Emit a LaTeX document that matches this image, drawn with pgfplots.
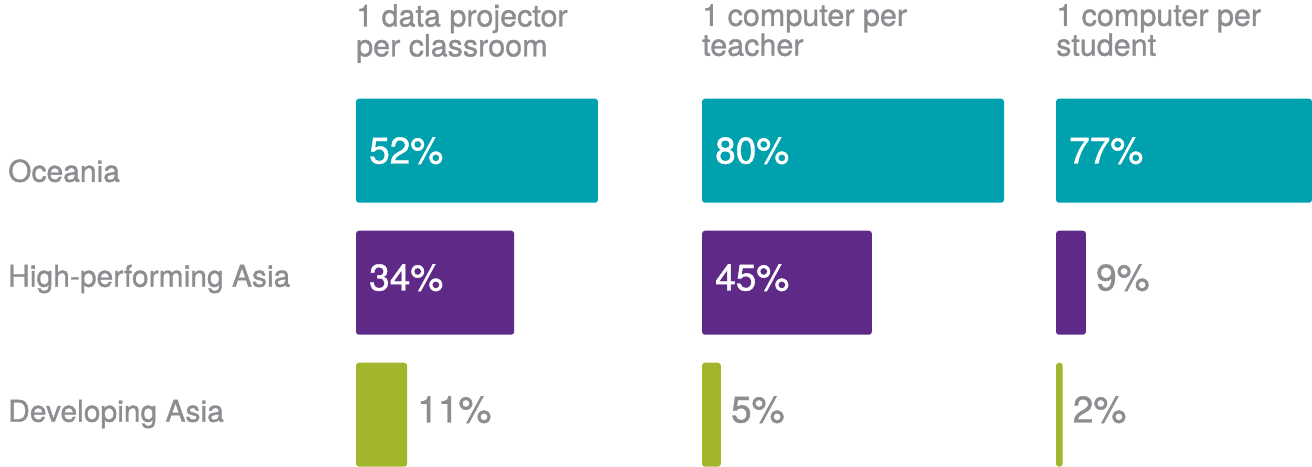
\documentclass[border=0pt]{standalone}
\usepackage{pgfplots}
\pgfplotsset{compat=1.18}
\usepackage{fontspec}
\setmainfont{TeX Gyre Heros}[FakeBold=1.1]
\definecolor{cteal}{HTML}{00A1AF}
\definecolor{cpurp}{HTML}{5E2987}
\definecolor{cgreen}{HTML}{A3B52D}
\definecolor{cgray}{HTML}{8B8D91}
\pgfplotsset{
  panel/.style={scale only axis, height=467bp, ymin=-0.396, ymax=3.142, xmin=0,
    axis line style={draw=none}, major tick style={draw=none},
    xtick=\empty, ytick=\empty, clip=false,
    title style={at={(0,1)}, anchor=north west, yshift=-10bp, inner sep=0pt,
      align=left, font=\fontsize{30.5bp}{26bp}\selectfont, text=cgray}},
  bars/.style={xbar, bar width=104bp, bar shift=0pt, draw=none, fill=#1, rounded corners=3bp},
  inlab/.style={draw=none, mark=none, nodes near coords, point meta=explicit symbolic,
    every node near coord/.style={anchor=west, xshift=13bp, yshift=#1, inner sep=0pt, text=white,
      font=\fontsize{37bp}{37bp}\selectfont}},
  inlab/.default=0bp,
  outlab/.style={draw=none, mark=none, nodes near coords, point meta=explicit symbolic,
    every node near coord/.style={anchor=west, xshift=10bp, yshift=5bp, inner sep=0pt, text=cgray,
      font=\fontsize{37bp}{37bp}\selectfont}},
}
\begin{document}
\begin{tikzpicture}
\useasboundingbox (0,0) rectangle (1312bp,467bp);
% Panel 1
\begin{axis}[panel, at={(356bp,0bp)}, anchor=south west, width=346bp, xmax=74.35,
  title={1 data projector\\per classroom},
  ytick={-0.053,0.970,1.765},
  yticklabels={Developing Asia, High-performing Asia, Oceania},
  yticklabel style={anchor=base west, xshift=-348bp, inner sep=0pt, text=cgray,
    font=\fontsize{30bp}{30bp}\selectfont}]
\addplot[bars=cteal] coordinates {(52,2)};
\addplot[bars=cpurp] coordinates {(34,1)};
\addplot[bars=cgreen] coordinates {(11,0)};
\addplot[inlab] coordinates {(0,2) [52\%]};
\addplot[inlab=5bp] coordinates {(0,1) [34\%]};
\addplot[outlab] coordinates {(11,0) [11\%]};
\end{axis}
% Panel 2
\begin{axis}[panel, at={(702bp,0bp)}, anchor=south west, width=354bp, xmax=93.77,
  title={1 computer per\\teacher}]
\addplot[bars=cteal] coordinates {(80,2)};
\addplot[bars=cpurp] coordinates {(45,1)};
\addplot[bars=cgreen] coordinates {(5,0)};
\addplot[inlab] coordinates {(0,2) [80\%]};
\addplot[inlab=5bp] coordinates {(0,1) [45\%]};
\addplot[outlab] coordinates {(5,0) [5\%]};
\end{axis}
% Panel 3
\begin{axis}[panel, at={(1056bp,0bp)}, anchor=south west, width=256bp, xmax=77,
  title={1 computer per\\student}]
\addplot[bars=cteal] coordinates {(77,2)};
\addplot[bars=cpurp] coordinates {(9,1)};
\addplot[bars=cgreen] coordinates {(2,0)};
\addplot[inlab] coordinates {(0,2) [77\%]};
\addplot[outlab] coordinates {(9,1) [9\%] (2,0) [2\%]};
\end{axis}
\end{tikzpicture}
\end{document}
